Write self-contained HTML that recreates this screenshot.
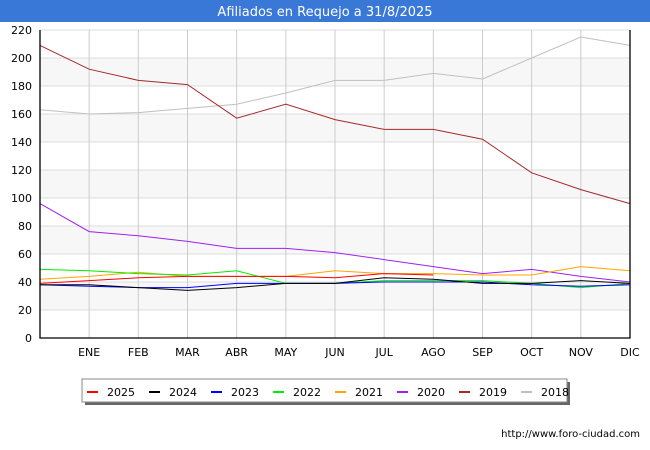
<!DOCTYPE html>
<html><head><meta charset="utf-8"><style>
body{margin:0;width:650px;height:450px;background:#fff;font-family:"DejaVu Sans","Liberation Sans",sans-serif;overflow:hidden}
</style></head><body>
<svg width="650" height="450" id="c" style="position:absolute;left:0;top:0">
<rect x="0" y="0" width="650" height="22" fill="#3a78d8"/>
<text x="325" y="16" text-anchor="middle" font-size="13" fill="#fff">Afiliados en Requejo a 31/8/2025</text>
<g id="plot"></g>
<text x="640" y="437" text-anchor="end" font-size="10" fill="#000">http://www.foro-ciudad.com</text>
</svg>
<script>
const months=["","ENE","FEB","MAR","ABR","MAY","JUN","JUL","AGO","SEP","OCT","NOV","DIC"];
const yTicks=[0,20,40,60,80,100,120,140,160,180,200,220];
const seriesNames=["2025","2024","2023","2022","2021","2020","2019","2018"];
const seriesColors=["#ff0000","#000000","#0000ff","#00ee00","#ffa500","#a020f0","#a52a2a","#c0c0c0"];
const s2025=[39,41,43,44,44,44,43,46,45];
const s2024=[38,38,36,34,36,39,39,43,42,39,39,41,39];
const s2023=[38,37,36,36,39,39,39,40,40,40,38,37,38];
const s2022=[49,48,46,45,48,39,39,41,41,41,39,36,39];
const s2021=[42,44,47,44,44,44,48,46,46,45,45,51,48];
const s2020=[96,76,73,69,64,64,61,56,51,46,49,44,40];
const s2019=[209,192,184,181,157,167,156,149,149,142,118,106,96];
const s2018=[163,160,161,164,167,175,184,184,189,185,200,215,209];
const allSeries=[s2025,s2024,s2023,s2022,s2021,s2020,s2019,s2018];
const NS="http://www.w3.org/2000/svg";
const L=40,R=630,T=30,B=338,YMAX=220;
const xs=i=>L+i*(R-L)/12;
const ys=v=>B-v*(B-T)/YMAX;
const g=document.getElementById('plot');
function mk(t,a){const e=document.createElementNS(NS,t);for(const k in a)e.setAttribute(k,a[k]);g.appendChild(e);return e;}
for(let i=0;i<yTicks.length-1;i++){
 if(i%2==1){const r=mk('rect',{x:L,y:ys(yTicks[i+1]),width:R-L,height:ys(yTicks[i])-ys(yTicks[i+1]),fill:'#f7f7f7'});
 
 }
}
yTicks.forEach(v=>{
 const l=mk('line',{x1:L,x2:R,y1:ys(v),y2:ys(v),stroke:'#dddddd'});
 
 
 const t=mk('text',{x:L-8,y:ys(v)+4,'text-anchor':'end','font-size':11,fill:'#000'});
 t.textContent=v;
 
 
});
months.forEach((m,i)=>{
 if(i>0){const l=mk('line',{x1:xs(i),x2:xs(i),y1:T,y2:B,stroke:'#cccccc'});
 
 }
 const t=mk('text',{x:xs(i),y:356,'text-anchor':'middle','font-size':11,fill:'#000'});
 t.textContent=m;
 
 
});
for(let k=allSeries.length-1;k>=0;k--){
 const d=allSeries[k].map((v,i)=>(i?'L':'M')+xs(i)+' '+ys(v)).join(' ');
 const p=mk('path',{d:d,fill:'none',stroke:seriesColors[k],'stroke-width':1});
 
 
}
const ax=mk('path',{d:`M${L} ${T}V${B}H${R}V${T}`,fill:'none',stroke:'#000','stroke-width':1.3});


const sh=mk('rect',{x:85,y:382,width:485,height:23,fill:'#666'});


const lb=mk('rect',{x:82,y:379,width:485,height:23,fill:'#fff',stroke:'#888'});


seriesNames.forEach((n,k)=>{
 const x0=87+k*62;
 const l=mk('line',{x1:x0,x2:x0+11,y1:392,y2:392,stroke:seriesColors[k],'stroke-width':2});
 
 
 const t=mk('text',{x:x0+20,y:396,'font-size':11,fill:'#000'});
 t.textContent=n;
 
 
});
</script>
</body></html>
